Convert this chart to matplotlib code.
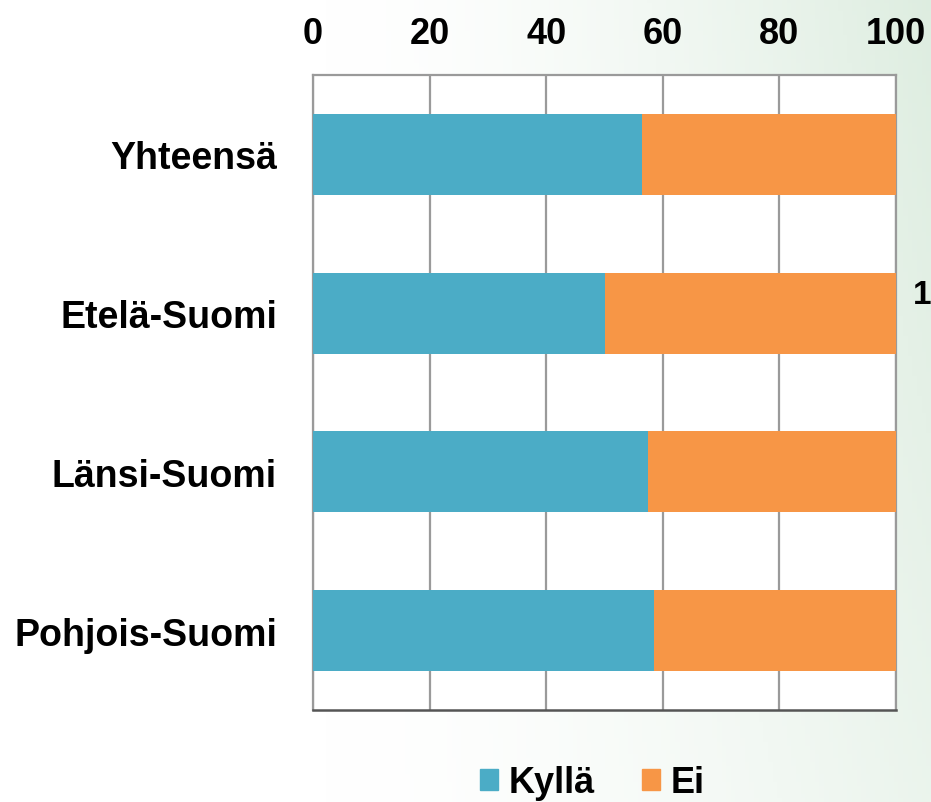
import numpy as np
import matplotlib.pyplot as plt
from matplotlib.patches import Rectangle

plt.rcParams['font.family'] = ['Liberation Sans', 'DejaVu Sans']

# Data
categories = ['Yhteensä', 'Etelä-Suomi', 'Länsi-Suomi', 'Pohjois-Suomi']
kylla = [56.5, 50.0, 57.5, 58.5]
ei = [100 - v for v in kylla]
series_names = ['Kyllä', 'Ei']
colors = ['#4BACC6', '#F79646']
ticks = [0, 20, 40, 60, 80, 100]

W, H = 931, 803
fig = plt.figure(figsize=(W / 100, H / 100), dpi=100)

# soft greenish background, white at the left, tinted at the right
bg = fig.add_axes([0, 0, 1, 1], zorder=-10)
xx, yy = np.meshgrid(np.linspace(0, 1, 200), np.linspace(0, 1, 200))
t = np.clip((xx - 0.35) / 0.65, 0, 1) ** 1.5 * (0.6 + 0.4 * (1 - yy))
white = np.array([1.0, 1.0, 1.0])
green = np.array([0.87, 0.93, 0.88])
img = white[None, None, :] * (1 - t[..., None]) + green[None, None, :] * t[..., None]
bg.imshow(img, aspect='auto', extent=[0, 1, 0, 1], origin='upper')
bg.axis('off')

# plot area in pixels: x 313-896, y 76-711
ax = fig.add_axes([313 / W, 1 - 711 / H, (896 - 313) / W, (711 - 76) / H])
ax.set_facecolor('white')
y = np.arange(len(categories))
ax.barh(y, kylla, height=0.51, color=colors[0], label=series_names[0], zorder=3)
ax.barh(y, ei, left=kylla, height=0.51, color=colors[1], label=series_names[1], zorder=3)

ax.set_xlim(0, 100)
ax.set_ylim(len(categories) - 0.5, -0.5)
ax.set_xticks(ticks)
ax.xaxis.tick_top()
ax.tick_params(axis='x', length=0, pad=17, labelsize=26)
ax.tick_params(axis='y', length=0, pad=26, labelsize=27)
ax.set_yticks(y)
ax.set_yticklabels(categories)
for lbl in ax.get_xticklabels() + ax.get_yticklabels():
    lbl.set_fontweight('bold')
ax.grid(axis='x', color='#9a9a9a', linewidth=1.6, zorder=1)
for side in ['top', 'left', 'right']:
    ax.spines[side].set_color('#9a9a9a')
    ax.spines[side].set_linewidth(1.6)
ax.spines['bottom'].set_color('#555555')
ax.spines['bottom'].set_linewidth(1.8)

# legend
handles = [Rectangle((0, 0), 1, 1, color=c) for c in colors]
fig.legend(handles, series_names, loc='center', bbox_to_anchor=(592 / W, 1 - 784 / H),
           ncol=2, frameon=False, prop={'size': 26, 'weight': 'bold'},
           handlelength=0.5, handleheight=0.5, handletextpad=0.3, columnspacing=1.3,
           borderpad=0)

# stray label at the right edge of the reference
fig.text(913 / W, 1 - 296 / H, '1', fontsize=24, fontweight='bold', va='center', ha='left')

fig.savefig('out.png', dpi=100)
